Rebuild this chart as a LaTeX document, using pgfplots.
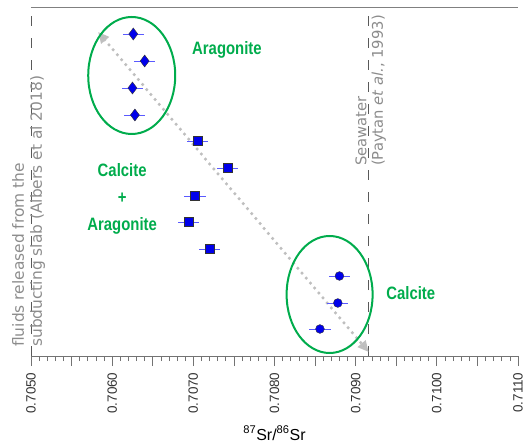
\documentclass[border=0pt]{standalone}
\usepackage{fontspec}
\setmainfont{Liberation Sans}
\newfontfamily\labfont[FakeStretch=0.83]{Liberation Sans}
\newfontfamily\annfont{DejaVu Sans}
\usepackage{pgfplots}
\pgfplotsset{compat=1.18}
\usetikzlibrary{arrows.meta}
\definecolor{mygreen}{RGB}{0,172,76}
\definecolor{mblue}{RGB}{0,0,235}
\definecolor{ebar}{RGB}{90,90,255}
\definecolor{anngray}{RGB}{140,140,140}
\begin{document}
\begin{tikzpicture}
\begin{axis}[
  scale only axis, width=487bp, height=349bp,
  xmin=0.7050, xmax=0.7110, ymin=0, ymax=349,
  axis y line=none, axis x line*=bottom,
  x axis line style={draw=black!55, line width=0.8bp},
  xtick={0.705,0.706,0.707,0.708,0.709,0.710,0.711},
  xticklabels={0.7050,0.7060,0.7070,0.7080,0.7090,0.7100,0.7110},
  extra x ticks={0.7055,0.7065,0.7075,0.7085,0.7095,0.7105},
  extra x tick labels={},
  minor x tick num=9,
  tick align=outside,
  major tick length=10bp, minor tick length=5bp,
  every tick/.style={draw=black!55, line width=0.7bp},
  xticklabel style={rotate=90, anchor=east, text=black!80, font=\fontsize{13.5}{13.5}\selectfont, xshift=-3bp},
  xlabel={\textsuperscript{87}Sr/\textsuperscript{86}Sr},
  xlabel style={font=\fontsize{16}{16}\selectfont, at={(rel axis cs:0.5,0)}, anchor=base, yshift=-84bp},
  clip=false,
]
% top line
\draw[black!50, line width=0.8bp] (rel axis cs:0,1) -- (rel axis cs:1,1);
% reference dashed lines
\addplot[black!65, line width=0.8bp, dash pattern=on 10bp off 12bp] coordinates {(0.7050,0) (0.7050,341)};
\addplot[black!65, line width=0.8bp, dash pattern=on 10bp off 12bp] coordinates {(0.70916,0) (0.70916,341)};
% dotted arrow
\addplot[draw=black!25, line width=3.5bp, line cap=round, dash pattern=on 0bp off 6.5bp, {Triangle[length=11bp,width=10bp,fill=black!28]}-{Triangle[length=11bp,width=10bp,fill=black!28]}] coordinates {(0.705827,324) (0.70916,4)};
% ellipses
\draw[mygreen, line width=2bp] (axis cs:0.706241,280.5) ellipse [x radius=43.5bp, y radius=58.5bp];
\draw[mygreen, line width=2bp] (axis cs:0.708679,61.5) ellipse [x radius=43bp, y radius=58.5bp];
% diamonds
\addplot[only marks, mark=diamond*, mark size=6bp, mark options={fill=mblue, draw=black!80, line width=0.4bp},
  error bars/.cd, x dir=both, x explicit, error mark=none, error bar style={ebar, line width=0.8bp}]
  coordinates {(0.70626,322) +- (0.00013,0) (0.70640,295) +- (0.00013,0) (0.70625,268) +- (0.00013,0) (0.70628,241) +- (0.00013,0)};
% squares
\addplot[only marks, mark=square*, mark size=4.6bp, mark options={fill=mblue, draw=black!80, line width=0.4bp},
  error bars/.cd, x dir=both, x explicit, error mark=none, error bar style={ebar, line width=0.8bp}]
  coordinates {(0.70705,215) +- (0.00013,0) (0.70742,188) +- (0.00013,0) (0.70702,160) +- (0.00013,0) (0.70694,134) +- (0.00013,0) (0.70720,107) +- (0.00013,0)};
% circles
\addplot[only marks, mark=*, mark size=4.4bp, mark options={fill=mblue, draw=black!80, line width=0.4bp},
  error bars/.cd, x dir=both, x explicit, error mark=none, error bar style={ebar, line width=0.8bp}]
  coordinates {(0.70880,80) +- (0.00013,0) (0.70878,53) +- (0.00013,0) (0.70856,27) +- (0.00013,0)};
% labels
\node[mygreen, font=\labfont\bfseries\fontsize{18}{18}\selectfont] at (axis cs:0.707414,306) {Aragonite};
\node[mygreen, font=\labfont\bfseries\fontsize{18}{27}\selectfont, align=center] at (axis cs:0.706123,157) {Calcite\\+\\Aragonite};
\node[mygreen, font=\labfont\bfseries\fontsize{18}{18}\selectfont] at (axis cs:0.709679,63) {Calcite};
\node[anngray, rotate=90, anchor=west, align=left, inner sep=0pt, font=\annfont\fontsize{14.8}{16.5}\selectfont] at (axis cs:0.709185,190) {Seawater\\(Paytan \textit{et al.}, 1993)};
\node[anngray, rotate=90, anchor=west, align=left, inner sep=0pt, font=\annfont\fontsize{15.5}{18}\selectfont] at (axis cs:0.704970,9) {fluids released from the\\subducting slab (Albers et al 2018)};
\end{axis}
\pgfresetboundingbox
\path (-31bp,-87bp) rectangle (493bp,356bp);
\end{tikzpicture}
\end{document}
